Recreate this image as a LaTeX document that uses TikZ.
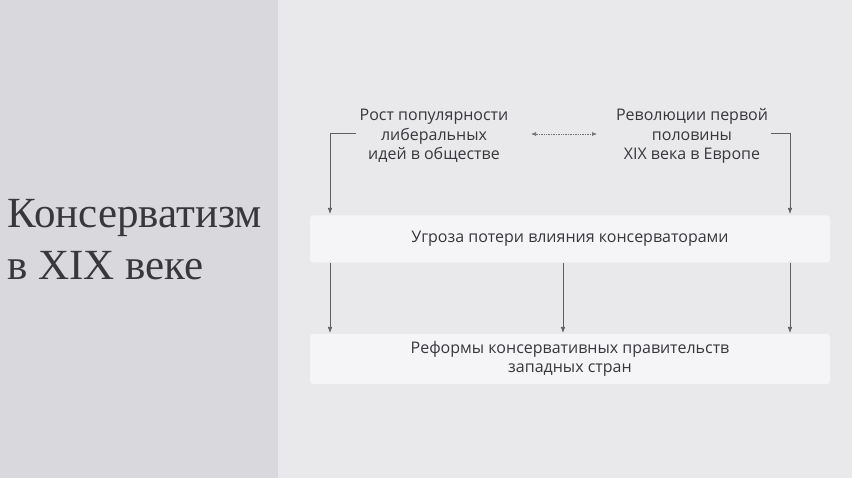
\documentclass[tikz,border=0pt]{standalone}
\usepackage{fontspec}
\setmainfont{Open Sans}
\newfontfamily\titlefont{Liberation Serif}
\usetikzlibrary{arrows.meta}
\definecolor{panelgray}{RGB}{217,216,221}
\definecolor{pagegray}{RGB}{233,233,235}
\definecolor{boxwhite}{RGB}{245,245,247}
\definecolor{inkgray}{RGB}{55,55,60}
\tikzset{
  label/.style={align=center,font=\fontsize{16}{19.5}\selectfont,text=inkgray},
  band/.style={fill=boxwhite,draw=none,rounded corners=3pt},
  link/.style={draw=inkgray!80,line width=0.7pt,-{Latex[length=6pt,width=4.5pt]}}
}
\begin{document}
\begin{tikzpicture}[x=1pt,y=-1pt]
  % Background
  \fill[pagegray] (0,0) rectangle (852,478);
  \fill[panelgray] (0,0) rectangle (278,478);
  \useasboundingbox (0,0) rectangle (852,478);

  % Title
  \node[anchor=west,align=left,text=inkgray,font=\titlefont\fontsize{43}{52}\selectfont] (title) at (4,240) {Консерватизм\\в XIX веке};

  % Causes
  \node[label] (ideas) at (434,136) {Рост популярности\\либеральных\\идей в обществе};
  \node[label] (revol) at (692,136) {Революции первой\\половины\\XIX века в Европе};
  \draw[draw=inkgray!70,densely dotted,line width=0.7pt,{Latex[length=5pt,width=4pt]}-{Latex[length=5pt,width=4pt]}] (531,134) -- (597,134);

  % Bands
  \node[band,minimum width=520,minimum height=47,label] (threat) at (570,239) {Угроза потери влияния консерваторами};
  \node[band,minimum width=520,minimum height=50,label] (reform) at (570,359) {Реформы консервативных правительств\\западных стран};

  % Connectors
  \draw[link] (ideas.west |- 0,133) -| (330,214);
  \draw[link] (revol.east |- 0,133) -| (790,214);
  \foreach \x in {330,563,790}
    \draw[link] (\x,263) -- (\x,333);
\end{tikzpicture}
\end{document}
